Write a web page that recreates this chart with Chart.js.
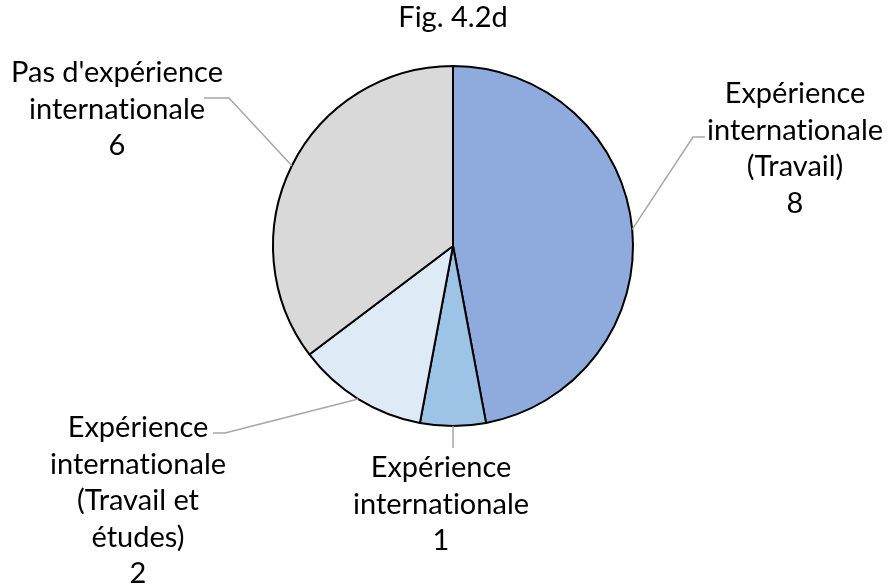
<!DOCTYPE html>
<html lang="fr">
  <head>
    <meta charset="UTF-8" />
    <title>Fig. 4.2d</title>
    <script src="https://cdn.jsdelivr.net/npm/chart.js@4.4.1/dist/chart.umd.min.js"></script>
    <style>
      html, body { margin: 0; padding: 0; background: #fff; }
    </style>
  </head>
  <body>
    <canvas id="chart" width="887" height="584"></canvas>

    <script>
      const title = "Fig. 4.2d";
      const categories = [
        ["Expérience", "internationale", "(Travail)"],
        ["Expérience", "internationale"],
        ["Expérience", "internationale", "(Travail et", "études)"],
        ["Pas d'expérience", "internationale"],
      ];
      const values = [8, 1, 2, 6];
      const colors = ["#8FAADC", "#9DC3E6", "#DEEBF7", "#D9D9D9"];

      // where each label block sits and how its leader line bends
      const labelLayout = [
        { cx: 795, y: 103, leader: [[693, 137], [705, 137]] },
        { cx: 441, y: 477, leader: [[453, 448]] },
        { cx: 138, y: 437, leader: [[225, 433], [213, 433]] },
        { cx: 117, y: 82, leader: [[229, 98], [204, 98]] },
      ];

      const FONT = "29px Lato";
      const LINE = 36.6;

      // Lato joins "ti" into a ligature; a zero-width non-joiner keeps them apart
      const noLig = (s) => s.replace(/ti/g, "t\u200Ci");

      const calloutLabels = {
        id: "calloutLabels",
        afterDraw(chart) {
          const ctx = chart.ctx;
          const arcs = chart.getDatasetMeta(0).data;
          ctx.save();

          ctx.font = FONT;
          ctx.fillStyle = "#000";
          ctx.textAlign = "center";
          ctx.textBaseline = "alphabetic";
          ctx.fillText(title, 453, 27);

          arcs.forEach((arc, i) => {
            const p = arc.getProps(["x", "y", "startAngle", "endAngle", "outerRadius"], true);
            const mid = (p.startAngle + p.endAngle) / 2;
            const ex = p.x + Math.cos(mid) * p.outerRadius;
            const ey = p.y + Math.sin(mid) * p.outerRadius;
            const lay = labelLayout[i];

            ctx.strokeStyle = "#A6A6A6";
            ctx.lineWidth = 1.5;
            ctx.beginPath();
            ctx.moveTo(ex, ey);
            lay.leader.forEach(([x, y]) => ctx.lineTo(x, y));
            ctx.stroke();

            const lines = [...categories[i], String(values[i])];
            lines.forEach((t, k) => ctx.fillText(noLig(t), lay.cx, lay.y + k * LINE));
          });
          ctx.restore();
        },
      };

      const ctx = document.getElementById("chart").getContext("2d");
      new Chart(ctx, {
        type: "pie",
        data: {
          labels: categories.map((c) => c.join(" ")),
          datasets: [
            {
              data: values,
              backgroundColor: colors,
              borderColor: "#000",
              borderWidth: 2,
            },
          ],
        },
        options: {
          responsive: false,
          animation: false,
          events: [],
          layout: { padding: { top: 65, bottom: 157, left: 272, right: 253 } },
          plugins: {
            legend: { display: false },
            tooltip: { enabled: false },
          },
        },
        plugins: [calloutLabels],
      });
    </script>
  </body>
</html>
